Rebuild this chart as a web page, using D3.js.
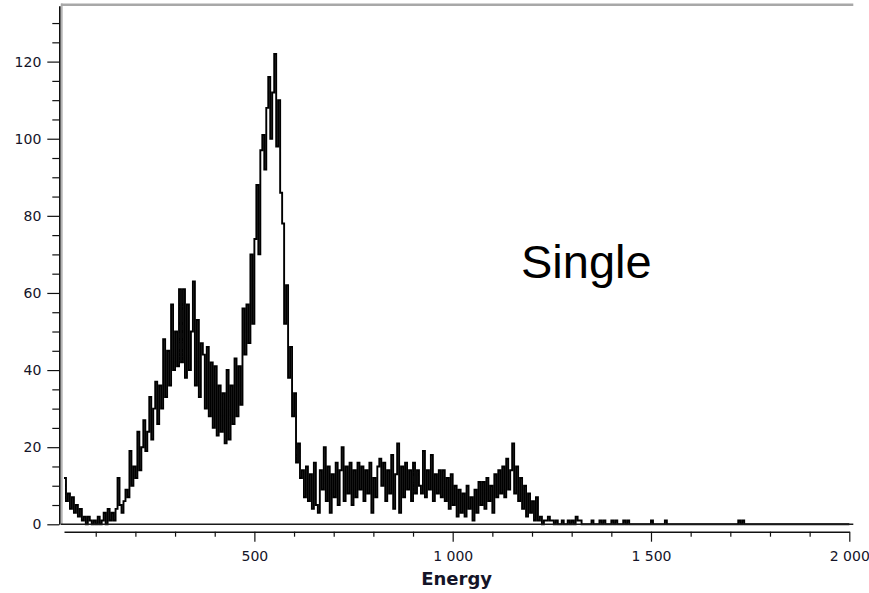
<!DOCTYPE html>
<html><head><meta charset="utf-8">
<script src="https://cdn.jsdelivr.net/npm/d3@7"></script>
<style>body{margin:0;background:#fff}svg{display:block}</style>
</head><body>
<svg id="c" width="869" height="593"></svg>
<script>
// Histogram: bins of 5 energy units starting at 20
const binStart = 20;
const binWidth = 5;
const counts = [
  12, 6, 8, 4, 7, 3, 5, 2, 4, 1,
  2, 0, 2, 1, 0, 1, 0, 2, 0, 1,
  3, 0, 4, 1, 3, 1, 4, 12, 5, 3,
  6, 9, 7, 19, 10, 15, 12, 24, 14, 20,
  27, 19, 24, 33, 22, 30, 37, 26, 36, 30,
  48, 33, 45, 36, 57, 40, 50, 41, 61, 42,
  61, 38, 57, 40, 50, 63, 36, 53, 33, 47,
  44, 30, 46, 28, 42, 25, 41, 23, 36, 24,
  34, 21, 40, 22, 36, 26, 43, 28, 41, 31,
  56, 44, 57, 47, 70, 52, 74, 88, 70, 97,
  101, 92, 108, 116, 100, 112, 122, 98, 110, 86,
  78, 52, 62, 38, 46, 28, 34, 16, 21, 12,
  14, 7, 15, 6, 13, 4, 16, 5, 3, 14,
  9, 20, 6, 15, 3, 13, 7, 16, 5, 14,
  20, 6, 15, 8, 16, 5, 14, 7, 16, 9,
  15, 6, 14, 8, 16, 3, 12, 7, 15, 17,
  10, 16, 6, 14, 8, 18, 4, 13, 21, 3,
  15, 7, 16, 9, 14, 6, 16, 8, 14, 10,
  8, 19, 7, 14, 9, 18, 6, 13, 8, 14,
  7, 14, 6, 12, 4, 13, 5, 10, 2, 9,
  3, 8, 2, 10, 4, 7, 1, 9, 3, 11,
  5, 11, 4, 12, 6, 10, 3, 13, 7, 14,
  8, 15, 7, 17, 9, 14, 21, 8, 15, 6,
  12, 4, 10, 2, 8, 3, 6, 1, 7, 1,
  2, 0, 1, 1, 2, 1, 1, 0, 1, 0
];
// sparse tail: isolated counts
const tailEnergies = [1262, 1279, 1292, 1300, 1313, 1318, 1323, 1354, 1372, 1384, 1404, 1414, 1430, 1442, 1500, 1535, 1721, 1731];
const tailCounts   = [1, 1, 1, 1, 2, 1, 1, 1, 1, 1, 1, 1, 1, 1, 1, 1, 1, 1];

const xMajorTicks = [500, 1000, 1500, 2000];
const xMinorTicks = [100, 200, 300, 400, 600, 700, 800, 900, 1100, 1200, 1300, 1400, 1600, 1700, 1800, 1900];
const yMajorTicks = [0, 20, 40, 60, 80, 100, 120];
const yMinorTicks = [5, 10, 15, 25, 30, 35, 45, 50, 55, 65, 70, 75, 85, 90, 95, 105, 110, 115, 125, 130];
const xDomain = [20, 2000];
const yDomain = [0, 134.5];
const xLabel = "Energy";
const annotation = "Single";

const svg = d3.select("#c");
const x = d3.scaleLinear().domain(xDomain).range([64, 849.3]);
const y = d3.scaleLinear().domain(yDomain).range([524.3, 5.7]);

// build bin table
const nBins = (xDomain[1] - binStart) / binWidth;
const table = d3.range(nBins).map(i => ({e: binStart + i * binWidth, c: i < counts.length ? counts[i] : 0}));
tailEnergies.forEach((e, k) => {
  const i = Math.floor((e - binStart) / binWidth);
  if (table[i]) table[i].c = tailCounts[k];
});
table.push({e: xDomain[1], c: 0});

// frame
svg.append("line").attr("x1", 61.7).attr("x2", 61.7).attr("y1", 3.5).attr("y2", 524.3)
  .attr("stroke", "#b4b4b4").attr("stroke-width", 2);
svg.append("line").attr("x1", 61).attr("x2", 853.3).attr("y1", 4.7).attr("y2", 4.7)
  .attr("stroke", "#a8a8a8").attr("stroke-width", 2.5);

// histogram
const line = d3.line().x(d => x(d.e)).y(d => y(d.c)).curve(d3.curveStepAfter);
svg.append("path").datum(table).attr("d", line)
  .attr("fill", "none").attr("stroke", "#000").attr("stroke-width", 1.9)
  .attr("stroke-linejoin", "miter");

// bottom frame line
svg.append("line").attr("x1", 61).attr("x2", 853.3).attr("y1", 524.3).attr("y2", 524.3)
  .attr("stroke", "#1a1a1a").attr("stroke-width", 1.6);

const fontFam = "'DejaVu Sans', Verdana, sans-serif";

// Y axis
const yAxis = svg.append("g").attr("transform", "translate(59.3,0)")
  .call(d3.axisLeft(y).tickValues(yMajorTicks).tickSize(12).tickSizeOuter(0).tickPadding(6));
yAxis.select(".domain").attr("stroke", "#111").attr("stroke-width", 1.6);
yAxis.selectAll(".tick line").attr("stroke", "#111").attr("stroke-width", 1.2);
yAxis.selectAll("text").attr("font-family", fontFam).attr("font-size", 14).attr("fill", "#141428");
const yMinor = svg.append("g").attr("transform", "translate(59.3,0)")
  .call(d3.axisLeft(y).tickValues(yMinorTicks).tickSize(7).tickFormat(""));
yMinor.select(".domain").remove();
yMinor.selectAll(".tick line").attr("stroke", "#111").attr("stroke-width", 1.2);

// X axis
const fmt = d => d3.format(",")(d).replace(",", " ");
const xAxis = svg.append("g").attr("transform", "translate(0,531.7)")
  .call(d3.axisBottom(x).tickValues(xMajorTicks).tickSize(10).tickSizeOuter(0).tickFormat(fmt));
xAxis.select(".domain").attr("stroke", "#111").attr("stroke-width", 1.6);
xAxis.selectAll(".tick line").attr("stroke", "#111").attr("stroke-width", 1.2);
xAxis.selectAll("text").attr("font-family", fontFam).attr("font-size", 14).attr("fill", "#141428")
  .attr("y", 29).attr("dy", 0);
const xMinor = svg.append("g").attr("transform", "translate(0,531.7)")
  .call(d3.axisBottom(x).tickValues(xMinorTicks).tickSize(5).tickFormat(""));
xMinor.select(".domain").remove();
xMinor.selectAll(".tick line").attr("stroke", "#111").attr("stroke-width", 1.2);

// axis title
svg.append("text").attr("x", (x.range()[0] + x.range()[1]) / 2).attr("y", 585)
  .attr("text-anchor", "middle").attr("font-family", fontFam).attr("font-weight", "bold")
  .attr("font-size", 18).attr("fill", "#141428").text(xLabel);

// annotation
svg.append("text").attr("x", 521).attr("y", 278)
  .attr("font-family", "'Liberation Sans', Arial, sans-serif").attr("font-size", 47)
  .attr("fill", "#000").text(annotation);
</script>
</body></html>
